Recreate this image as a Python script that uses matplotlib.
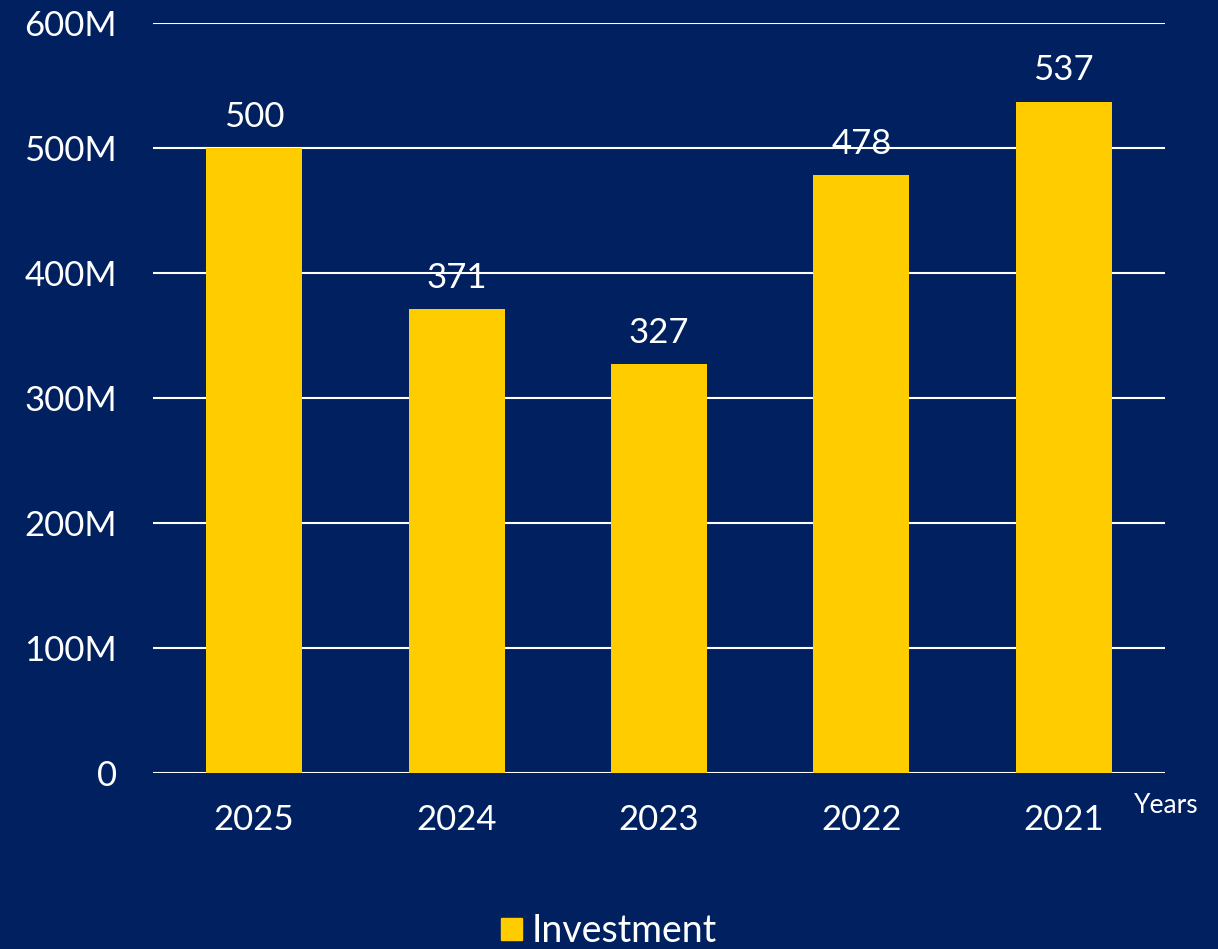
import matplotlib.pyplot as plt
from matplotlib.patches import Patch

years = ['2025', '2024', '2023', '2022', '2021']
investment = [500, 371, 327, 478, 537]
y_ticks = [0, 100, 200, 300, 400, 500, 600]
y_labels = ['0', '100M', '200M', '300M', '400M', '500M', '600M']

navy = '#002060'
gold = '#FFCC00'

plt.rcParams['font.family'] = ['Lato', 'DejaVu Sans']

fig = plt.figure(figsize=(12.18, 9.49), dpi=100, facecolor=navy)
ax = fig.add_axes([0.1256, 0.1855, 0.8309, 0.7903], facecolor=navy)

x = range(len(years))
bars = ax.bar(x, investment, width=0.474, color=gold, zorder=3)
for b, v in zip(bars, investment):
    ax.annotate(str(v), (b.get_x() + b.get_width() / 2, v), xytext=(0, 11),
                textcoords='offset points', ha='center', va='bottom',
                color='white', fontsize=25)

ax.set_xlim(-0.5, 4.5)
ax.set_ylim(0, 600)
ax.set_yticks(y_ticks)
ax.set_yticklabels(y_labels)
ax.set_xticks(list(x))
ax.set_xticklabels(years)
ax.grid(axis='y', color='white', linewidth=1.5, zorder=0)
ax.tick_params(axis='both', length=0, colors='white', labelsize=25)
ax.tick_params(axis='x', pad=22)
ax.tick_params(axis='y', pad=26)
for s in ax.spines.values():
    s.set_visible(False)

fig.text(0.931, 0.143, 'Years', color='white', fontsize=19)

leg = fig.legend(handles=[Patch(color=gold, label='Investment')], loc='lower center',
                 bbox_to_anchor=(0.5, -0.036), frameon=False, fontsize=27,
                 handlelength=0.55, handleheight=0.55, handletextpad=0.25)
for t in leg.get_texts():
    t.set_color('white')

fig.savefig('out.png', dpi=100, facecolor=navy)
